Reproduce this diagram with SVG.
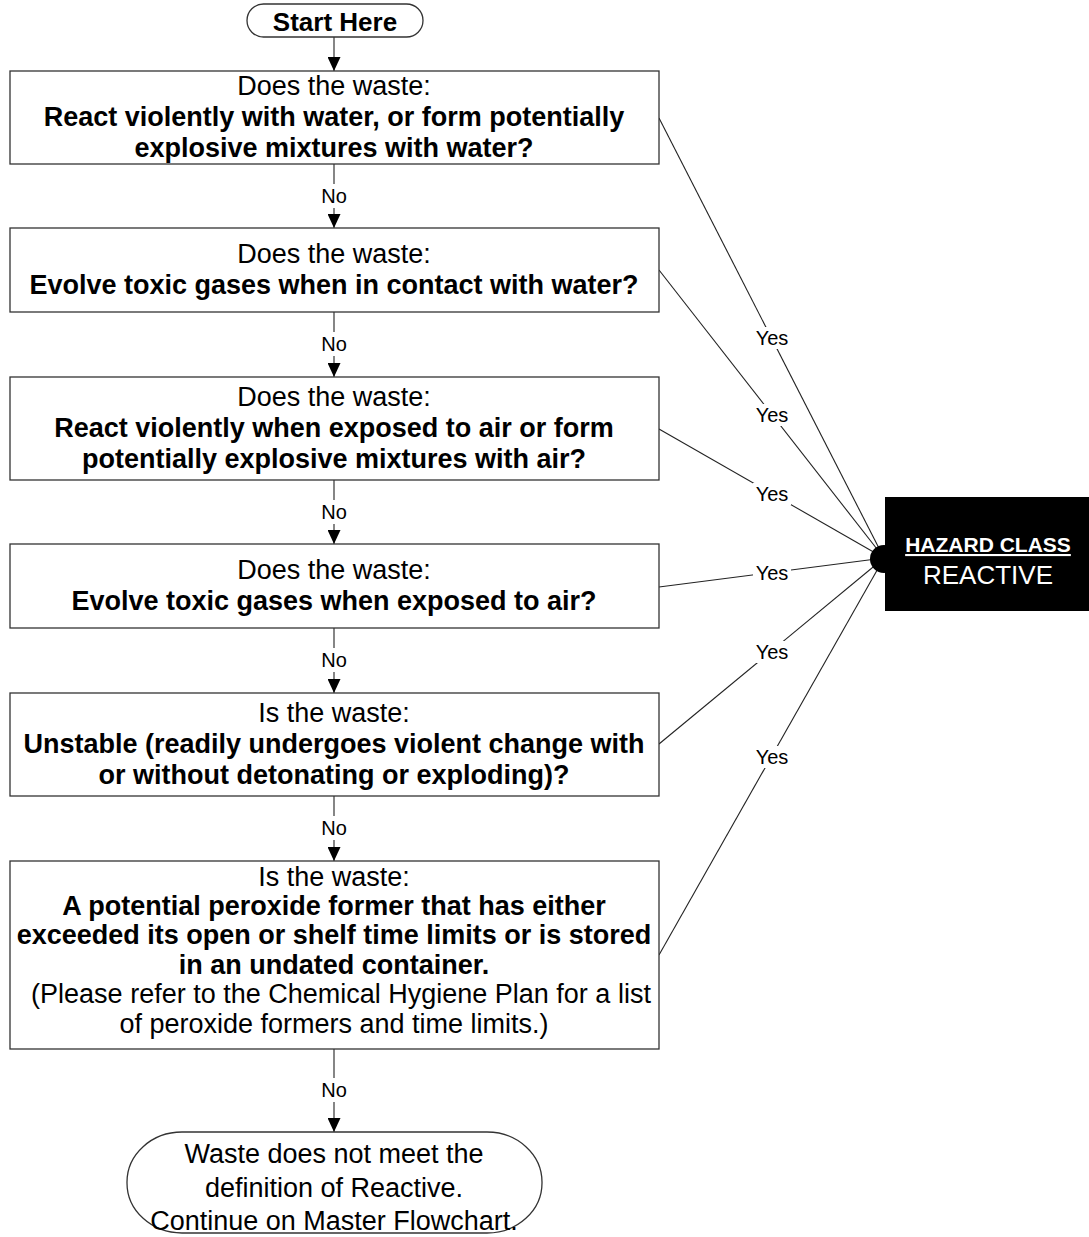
<svg xmlns="http://www.w3.org/2000/svg" width="1089" height="1237" viewBox="0 0 1089 1237">
  <style>
    text { font-family: "Liberation Sans", Arial, sans-serif; fill: #000; }
    .t { font-size: 27px; text-anchor: middle; }
    .b { font-weight: bold; }
    .lbl { font-size: 20px; text-anchor: middle; }
    .box { fill: #fff; stroke: #333; stroke-width: 1.3; }
    .wire { stroke: #222; stroke-width: 1.1; fill: none; }
    .mask { fill: #fff; }
  </style>
  <defs>
    <marker id="arrow" markerWidth="14" markerHeight="13" refX="14" refY="6.5" orient="auto" markerUnits="userSpaceOnUse">
      <path d="M0,0 L14,6.5 L0,13 Z" fill="#000"/>
    </marker>
  </defs>

  <rect width="1089" height="1237" fill="#fff"/>

  <!-- connectors -->
  <g id="connectors">
    <!-- vertical "No" flow -->
    <line class="wire" x1="334" y1="37" x2="334" y2="71" marker-end="url(#arrow)"/>
    <line class="wire" x1="334" y1="164" x2="334" y2="228" marker-end="url(#arrow)"/>
    <line class="wire" x1="334" y1="312" x2="334" y2="377" marker-end="url(#arrow)"/>
    <line class="wire" x1="334" y1="480" x2="334" y2="544" marker-end="url(#arrow)"/>
    <line class="wire" x1="334" y1="628" x2="334" y2="693" marker-end="url(#arrow)"/>
    <line class="wire" x1="334" y1="796" x2="334" y2="861" marker-end="url(#arrow)"/>
    <line class="wire" x1="334" y1="1049" x2="334" y2="1132" marker-end="url(#arrow)"/>
    <g>
      <rect class="mask" x="320" y="184" width="28" height="24"/>
      <text class="lbl" x="334" y="203">No</text>
      <rect class="mask" x="320" y="332" width="28" height="24"/>
      <text class="lbl" x="334" y="351">No</text>
      <rect class="mask" x="320" y="500" width="28" height="24"/>
      <text class="lbl" x="334" y="519">No</text>
      <rect class="mask" x="320" y="648" width="28" height="24"/>
      <text class="lbl" x="334" y="667">No</text>
      <rect class="mask" x="320" y="816" width="28" height="24"/>
      <text class="lbl" x="334" y="835">No</text>
      <rect class="mask" x="320" y="1078" width="28" height="24"/>
      <text class="lbl" x="334" y="1097">No</text>
    </g>

    <!-- "Yes" branches converging on the hazard class -->
    <line class="wire" x1="659" y1="118" x2="884" y2="558"/>
    <line class="wire" x1="659" y1="270" x2="884" y2="558"/>
    <line class="wire" x1="659" y1="429" x2="884" y2="558"/>
    <line class="wire" x1="659" y1="587" x2="884" y2="558"/>
    <line class="wire" x1="659" y1="744" x2="884" y2="558"/>
    <line class="wire" x1="659" y1="955" x2="884" y2="558"/>
    <circle cx="884" cy="559" r="14" fill="#000"/>
    <g>
      <rect class="mask" x="753" y="327" width="38" height="22"/>
      <text class="lbl" x="772" y="345">Yes</text>
      <rect class="mask" x="753" y="404" width="38" height="22"/>
      <text class="lbl" x="772" y="422">Yes</text>
      <rect class="mask" x="753" y="483" width="38" height="22"/>
      <text class="lbl" x="772" y="501">Yes</text>
      <rect class="mask" x="753" y="562" width="38" height="22"/>
      <text class="lbl" x="772" y="580">Yes</text>
      <rect class="mask" x="753" y="641" width="38" height="22"/>
      <text class="lbl" x="772" y="659">Yes</text>
      <rect class="mask" x="753" y="746" width="38" height="22"/>
      <text class="lbl" x="772" y="764">Yes</text>
    </g>
  </g>

  <!-- start terminal -->
  <g id="start">
    <rect class="box" x="247" y="4" width="176" height="33" rx="16.5" ry="16.5"/>
    <text class="t b" x="335" y="31" style="font-size:26px">Start Here</text>
  </g>

  <g id="q1">
    <rect class="box" x="10" y="71" width="649" height="93"/>
    <text class="t" x="334" y="95">Does the waste:</text>
    <text class="t b" x="334" y="126">React violently with water, or form potentially</text>
    <text class="t b" x="334" y="157">explosive mixtures with water?</text>
  </g>

  <g id="q2">
    <rect class="box" x="10" y="228" width="649" height="84"/>
    <text class="t" x="334" y="263">Does the waste:</text>
    <text class="t b" x="334" y="294">Evolve toxic gases when in contact with water?</text>
  </g>

  <g id="q3">
    <rect class="box" x="10" y="377" width="649" height="103"/>
    <text class="t" x="334" y="406">Does the waste:</text>
    <text class="t b" x="334" y="437">React violently when exposed to air or form</text>
    <text class="t b" x="334" y="468">potentially explosive mixtures with air?</text>
  </g>

  <g id="q4">
    <rect class="box" x="10" y="544" width="649" height="84"/>
    <text class="t" x="334" y="579">Does the waste:</text>
    <text class="t b" x="334" y="610">Evolve toxic gases when exposed to air?</text>
  </g>

  <g id="q5">
    <rect class="box" x="10" y="693" width="649" height="103"/>
    <text class="t" x="334" y="722">Is the waste:</text>
    <text class="t b" x="334" y="753">Unstable (readily undergoes violent change with</text>
    <text class="t b" x="334" y="784">or without detonating or exploding)?</text>
  </g>

  <g id="q6">
    <rect class="box" x="10" y="861" width="649" height="188"/>
    <text class="t" x="334" y="886">Is the waste:</text>
    <text class="t b" x="334" y="915">A potential peroxide former that has either</text>
    <text class="t b" x="334" y="944">exceeded its open or shelf time limits or is stored</text>
    <text class="t b" x="334" y="974">in an undated container.</text>
    <text class="t" x="341" y="1003">(Please refer to the Chemical Hygiene Plan for a list</text>
    <text class="t" x="334" y="1033">of peroxide formers and time limits.)</text>
  </g>

  <!-- hazard class result -->
  <g id="reactive">
    <rect x="885" y="497" width="204" height="114" fill="#000"/>
    <text x="988" y="552" style="font-size:21px;font-weight:bold;text-anchor:middle;fill:#fff;text-decoration:underline">HAZARD CLASS</text>
    <text x="988" y="584" style="font-size:26px;text-anchor:middle;fill:#fff">REACTIVE</text>
  </g>

  <!-- end terminal -->
  <g id="end">
    <rect class="box" x="127" y="1132" width="415" height="101" rx="55" ry="50"/>
    <text class="t" x="334" y="1163">Waste does not meet the</text>
    <text class="t" x="334" y="1197">definition of Reactive.</text>
    <text class="t" x="334" y="1230">Continue on Master Flowchart.</text>
  </g>
</svg>
